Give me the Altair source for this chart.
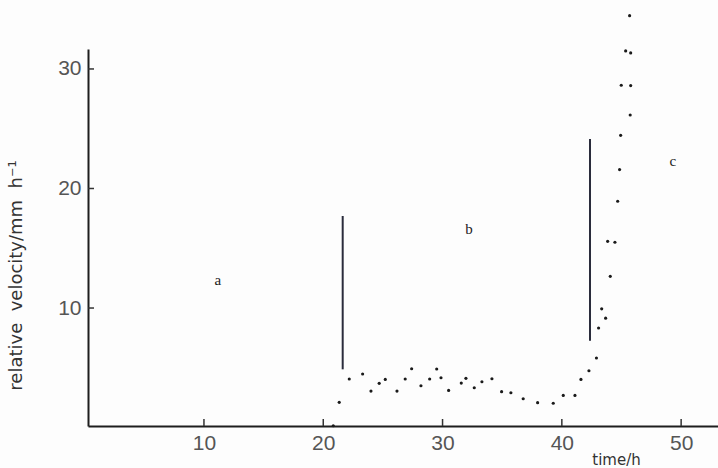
import altair as alt
import pandas as pd

# ---- data ----
time_h = [20.84, 21.34, 22.18, 23.30, 24.00, 24.69, 25.20, 26.18, 26.87, 27.41,
          28.19, 28.92, 29.51, 29.87, 30.51, 31.57, 31.96, 32.66, 33.30, 34.14,
          34.95, 35.73, 36.76, 37.97, 39.28, 40.12, 41.10, 41.60, 42.27, 42.90,
          43.08, 43.34, 43.67, 44.06, 43.84, 44.45, 44.68, 44.84, 44.93, 45.73,
          44.98, 45.77, 45.35, 45.77, 45.68]
velocity = [0.15, 2.11, 4.06, 4.48, 3.05, 3.70, 4.03, 3.05, 4.06, 4.92,
            3.50, 4.06, 4.90, 4.17, 3.11, 3.72, 4.12, 3.33, 3.83, 4.08,
            3.00, 2.91, 2.41, 2.08, 2.03, 2.69, 2.69, 4.03, 4.75, 5.82,
            8.33, 9.93, 9.15, 12.65, 15.58, 15.50, 18.93, 21.58, 24.45, 26.15,
            28.64, 28.61, 31.51, 31.34, 34.46]

divider_t = [21.63, 42.36]
divider_lo = [4.87, 7.26]
divider_hi = [17.70, 24.14]

phase_labels = ["a", "b", "c"]
phase_t = [11.17, 32.21, 49.31]
phase_v = [12.34, 16.61, 22.30]

x_ticks = [10, 20, 30, 40, 50]
y_ticks = [10, 20, 30]

pts = pd.DataFrame({"t": time_h, "v": velocity})
div = pd.DataFrame({"t": divider_t, "lo": divider_lo, "hi": divider_hi})
lab = pd.DataFrame({"t": phase_t, "v": phase_v, "s": phase_labels})
xt = pd.DataFrame({"t": x_ticks})
yt = pd.DataFrame({"v": y_ticks})

W, H = 630, 377
xs = alt.Scale(domain=[0.28, 53.09], nice=False, zero=False)
ys = alt.Scale(domain=[0.13, 31.67], nice=False, zero=False)

label_font = "Liberation Sans"
axis_x = alt.Axis(values=x_ticks, ticks=False, grid=False, domain=True,
                  domainColor="#1e1e1e", domainWidth=2,
                  labelFont=label_font, labelFontSize=21, labelColor="#555555",
                  labelPadding=6, labelFlush=False,
                  title="time/h", titleFont="DejaVu Sans", titleFontSize=15,
                  titleFontWeight="normal", titleColor="#333333",
                  titleX=528, titleY=33, titleAlign="center", titleBaseline="middle")
axis_y = alt.Axis(values=y_ticks, ticks=False, grid=False, domain=True,
                  domainColor="#1e1e1e", domainWidth=2,
                  labelFont=label_font, labelFontSize=21, labelColor="#555555",
                  labelPadding=7,
                  title="relative\u00a0\u00a0velocity/mm\u00a0\u00a0h\u207b\u00b9",
                  titleFont="DejaVu Sans", titleFontSize=18, titleFontWeight="normal",
                  titleColor="#333333", titleAngle=-90,
                  titleX=-72, titleY=226, titleAlign="center", titleBaseline="middle")

points = alt.Chart(pts).mark_circle(size=10, color="#1a1a1a", opacity=1).encode(
    x=alt.X("t:Q", scale=xs, axis=axis_x),
    y=alt.Y("v:Q", scale=ys, axis=axis_y),
)

dividers = alt.Chart(div).mark_rule(color="#2a2c3c", strokeWidth=2).encode(
    x=alt.X("t:Q", scale=xs),
    y=alt.Y("lo:Q", scale=ys),
    y2="hi:Q",
)

labels = alt.Chart(lab).mark_text(font="Liberation Serif", fontSize=15,
                                  color="#222222").encode(
    x=alt.X("t:Q", scale=xs),
    y=alt.Y("v:Q", scale=ys),
    text="s:N",
)

xtick_marks = alt.Chart(xt).mark_rule(color="#333333", strokeWidth=1.5).encode(
    x=alt.X("t:Q", scale=xs),
    y=alt.value(H),
    y2=alt.value(H - 7),
)

ytick_marks = alt.Chart(yt).mark_rule(color="#333333", strokeWidth=1.5).encode(
    y=alt.Y("v:Q", scale=ys),
    x=alt.value(0),
    x2=alt.value(6),
)

chart = alt.layer(points, dividers, labels, xtick_marks, ytick_marks).properties(
    width=W, height=H,
    autosize=alt.AutoSizeParams(type="none"),
    padding={"left": 88, "top": 49, "right": 0, "bottom": 42},
    background="#fdfdfd",
).configure_view(stroke=None)

chart.save("out.html", embed_options={"renderer": "svg", "actions": False})
